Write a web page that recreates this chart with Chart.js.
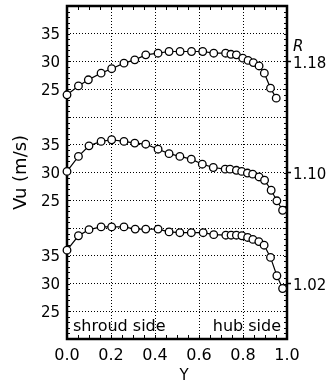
<!DOCTYPE html>
<html><head><meta charset="utf-8">
<script src="https://cdn.jsdelivr.net/npm/chart.js@4.4.1/dist/chart.umd.min.js"></script>
<style>html,body{margin:0;padding:0;background:#fff;}#wrap{width:330px;height:384px;}</style>
</head><body><div id="wrap"><canvas id="c" width="330" height="384"></canvas></div>
<script>
// Data (Y position, Vu in m/s)
const yTop = [0.0, 0.052, 0.097, 0.155, 0.203, 0.259, 0.308, 0.358, 0.414, 0.464, 0.514, 0.566, 0.617, 0.667, 0.721, 0.745, 0.77, 0.799, 0.823, 0.847, 0.873, 0.897, 0.925, 0.951];
const vuTop = [24.0, 25.6, 26.7, 27.9, 28.7, 29.7, 30.3, 31.2, 31.5, 31.8, 31.8, 31.8, 31.8, 31.5, 31.5, 31.3, 31.2, 30.6, 30.2, 29.8, 29.2, 27.9, 25.2, 23.4];
const yMid = [0.0, 0.052, 0.1, 0.155, 0.203, 0.259, 0.308, 0.358, 0.414, 0.464, 0.513, 0.565, 0.615, 0.665, 0.719, 0.741, 0.77, 0.794, 0.82, 0.844, 0.873, 0.898, 0.928, 0.954, 0.98];
const vuMid = [30.2, 32.9, 34.8, 35.6, 35.9, 35.6, 35.3, 35.1, 34.2, 33.4, 32.9, 32.4, 31.5, 30.9, 30.6, 30.6, 30.4, 30.2, 29.9, 29.7, 29.2, 28.6, 26.8, 24.9, 23.2];
const yBot = [0.0, 0.052, 0.1, 0.155, 0.203, 0.259, 0.31, 0.358, 0.414, 0.464, 0.513, 0.565, 0.619, 0.667, 0.722, 0.746, 0.77, 0.795, 0.821, 0.845, 0.872, 0.896, 0.925, 0.954, 0.98];
const vuBot = [36.0, 38.6, 39.7, 40.2, 40.2, 40.2, 39.8, 39.8, 39.8, 39.3, 39.15, 39.15, 39.15, 38.8, 38.7, 38.7, 38.7, 38.6, 38.3, 37.95, 37.55, 36.9, 34.7, 31.4, 29.1];

// Panel stacking offsets (m/s added to place each curve on the shared axis)
const panelOffsets = [-20, 0, 20];            // bottom (R=1.02), middle (1.10), top (1.18)
const panelTickValues = [25, 30, 35];         // labelled Vu ticks in each panel
const ratioLabels = ['1.02', '1.10', '1.18']; // R for each panel (at Vu = 30)
const ratioAt = 30;
const xTickLabels = ['0.0', '0.2', '0.4', '0.6', '0.8', '1.0'];

const FONT = '"DejaVu Sans", "Liberation Sans", Arial, sans-serif';
const U_MIN = 0, U_MAX = 60, U_STEP = 5;

function mk(xs, vs, off) { return xs.map((x, i) => ({x: x, y: vs[i] + off})); }

const leftLabelMap = {};
panelOffsets.forEach(off => panelTickValues.forEach(v => { leftLabelMap[v + off] = String(v); }));

const rightTicks = panelOffsets.map((off, i) => ({value: ratioAt + off, label: ratioLabels[i]}));
const R_POS = 53;

function noPad(s) { s.paddingTop = 0; s.paddingBottom = 0; s.paddingLeft = 0; s.paddingRight = 0; }

const framePlugin = {
  id: 'frame',
  beforeDatasetsDraw(chart) {
    const {ctx, chartArea: a, scales: {x, y}} = chart;
    ctx.save();
    ctx.strokeStyle = '#000';
    ctx.lineWidth = 1;
    ctx.beginPath();
    for (let i = 1; i < 20; i++) {
      const px = Math.round(x.getPixelForValue(i * 0.05)) + 0.5;
      ctx.moveTo(px, a.bottom); ctx.lineTo(px, a.bottom - 4);
      ctx.moveTo(px, a.top); ctx.lineTo(px, a.top + 4);
    }
    for (let u = U_MIN + 1; u < U_MAX; u++) {
      const py = Math.round(y.getPixelForValue(u)) + 0.5;
      ctx.moveTo(a.left, py); ctx.lineTo(a.left + 3, py);
      ctx.moveTo(a.right, py); ctx.lineTo(a.right - 3, py);
    }
    ctx.stroke();
    ctx.lineWidth = 2.5;
    ctx.strokeRect(a.left, a.top, a.right - a.left, a.bottom - a.top);
    ctx.restore();
  },
  afterDraw(chart) {
    const {ctx, scales: {x, y}} = chart;
    ctx.save();
    ctx.fillStyle = '#000';
    ctx.font = '16px ' + FONT;
    ctx.textBaseline = 'alphabetic';
    ctx.textAlign = 'left';
    ctx.fillText('shroud side', x.getPixelForValue(0.027), y.getPixelForValue(1.45));
    ctx.textAlign = 'right';
    ctx.fillText('hub side', x.getPixelForValue(0.973), y.getPixelForValue(1.45));
    // x-axis title
    ctx.font = '15px ' + FONT;
    ctx.textAlign = 'center';
    ctx.textBaseline = 'middle';
    ctx.fillText('Y', x.getPixelForValue(0.532), chart.height - 7.5);
    ctx.restore();
  }
};

const ds = (data) => ({
  data: data, borderColor: '#000', borderWidth: 1.2, backgroundColor: '#fff',
  pointRadius: 3.8, pointBorderWidth: 1.3, pointBackgroundColor: '#fff', pointBorderColor: '#000',
  tension: 0, clip: false, showLine: true
});

new Chart(document.getElementById('c'), {
  type: 'scatter',
  data: { datasets: [
    ds(mk(yTop, vuTop, panelOffsets[2])),
    ds(mk(yMid, vuMid, panelOffsets[1])),
    ds(mk(yBot, vuBot, panelOffsets[0]))
  ]},
  options: {
    responsive: false, animation: false, devicePixelRatio: 1,
    layout: { padding: { top: 6, left: 0, right: 0, bottom: 0 } },
    plugins: { legend: { display: false }, tooltip: { enabled: false } },
    scales: {
      x: {
        type: 'linear', position: 'bottom', min: 0, max: 1,
        afterBuildTicks: s => { s.ticks = xTickLabels.map((t, i) => ({value: i * 0.2})); },
        afterFit: s => { s.height = 45; noPad(s); },
        ticks: { callback: (v, i) => xTickLabels[i], color: '#000', padding: 7, maxRotation: 0, autoSkip: false,
                 font: { family: FONT, size: 16 } },
        grid: { drawTicks: false, color: ctx => (ctx.tick && ctx.tick.value > 0.01 && ctx.tick.value < 0.99) ? '#000' : 'rgba(0,0,0,0)', lineWidth: 1 },
        border: { display: false, dash: [1, 2] },
        title: { display: false }
      },
      y: {
        type: 'linear', position: 'left', min: U_MIN, max: U_MAX,
        afterBuildTicks: s => { const t = []; for (let u = U_MIN + U_STEP; u < U_MAX; u += U_STEP) t.push({value: u}); s.ticks = t; },
        afterFit: s => { s.width = 67; noPad(s); },
        ticks: { callback: v => leftLabelMap[v] || '', color: '#000', padding: 7, labelOffset: 1.5, autoSkip: false,
                 font: { family: FONT, size: 15 } },
        grid: { drawTicks: false, color: '#000', lineWidth: 1 },
        border: { display: false, dash: [1, 2] },
        title: { display: true, text: 'Vu (m/s)', color: '#000', font: { family: FONT, size: 18 }, padding: { top: 11, bottom: 0 } }
      },
      y2: {
        type: 'linear', position: 'right', min: U_MIN, max: U_MAX,
        afterBuildTicks: s => { s.ticks = rightTicks.map(t => ({value: t.value})).concat([{value: R_POS}]); },
        afterFit: s => { s.width = 43; noPad(s); },
        ticks: {
          callback: v => v === R_POS ? 'R' : (rightTicks.find(t => t.value === v) || {}).label,
          color: '#000', padding: 2, labelOffset: 2.5, autoSkip: false,
          font: ctx => (ctx.tick && ctx.tick.value === R_POS) ? { family: FONT, size: 15, style: 'italic' } : { family: FONT, size: 15 }
        },
        grid: { drawOnChartArea: false, drawTicks: true, tickLength: 4, tickWidth: 1.5,
                tickColor: ctx => (ctx.tick && ctx.tick.value === R_POS) ? 'rgba(0,0,0,0)' : '#000' },
        border: { display: false }
      }
    }
  },
  plugins: [framePlugin]
});
</script></body></html>
